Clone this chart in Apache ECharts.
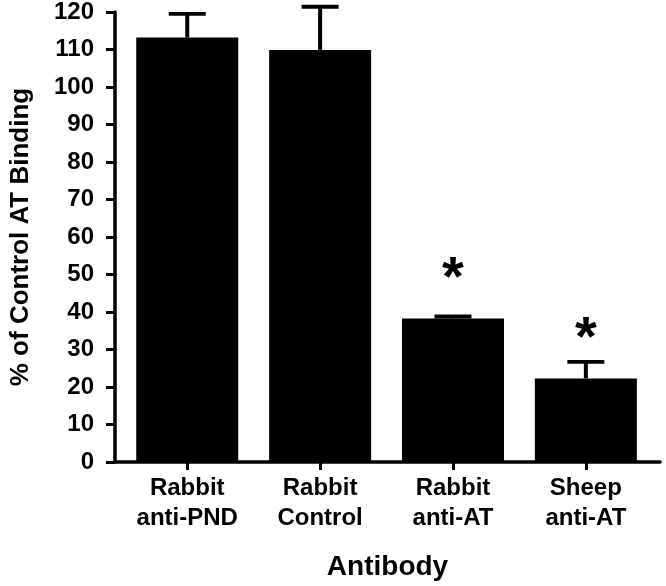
<!DOCTYPE html>
<html>
<head>
<meta charset="utf-8">
<script src="https://cdn.jsdelivr.net/npm/echarts@6/dist/echarts.min.js"></script>
<style>
html,body{margin:0;padding:0;background:#fff;}
#chart{width:666px;height:586px;}
</style>
</head>
<body>
<div id="chart"></div>
<script>
var categories = ['Rabbit\nanti-PND', 'Rabbit\nControl', 'Rabbit\nanti-AT', 'Sheep\nanti-AT'];
var meanValues = [113.2, 109.9, 38.3, 22.3];
var errorValues = [6.3, 11.5, 0.5, 4.4];
var asteriskY = [null, null, 51.5, 35.5];
var yTicks = {min: 0, max: 120, interval: 10};

var FONT = '"Liberation Sans", Arial, Helvetica, sans-serif';
var chart = echarts.init(document.getElementById('chart'), null, {renderer: 'canvas'});

var errData = meanValues.map(function (m, i) { return [i, m, m + errorValues[i]]; });
var astData = [];
asteriskY.forEach(function (v, i) { if (v != null) astData.push([i, v]); });

var option = {
  backgroundColor: '#fff',
  animation: false,
  grid: [
    {left: 109, right: 6, top: 12, bottom: 124},
    {left: 120.8, right: 13.7, top: 12, bottom: 124}
  ],
  xAxis: [
    {
      gridIndex: 0, type: 'value', min: 0, max: 1,
      axisLine: {show: true, lineStyle: {color: '#000', width: 3.5}},
      axisTick: {show: false}, axisLabel: {show: false}, splitLine: {show: false},
      name: 'Antibody', nameLocation: 'middle', nameGap: 91,
      nameTextStyle: {fontFamily: FONT, fontWeight: 'bold', fontSize: 28, color: '#000'}
    },
    {
      gridIndex: 1, type: 'category', data: categories,
      axisLine: {show: false},
      axisTick: {show: true, alignWithLabel: true, length: 8, lineStyle: {color: '#000', width: 3}},
      axisLabel: {fontFamily: FONT, fontWeight: 'bold', fontSize: 24, color: '#000', lineHeight: 30, margin: 11, interval: 0}
    }
  ],
  yAxis: [
    {
      gridIndex: 0, type: 'value', min: yTicks.min, max: yTicks.max, interval: yTicks.interval,
      axisLine: {show: true, lineStyle: {color: '#000', width: 3.5}},
      axisTick: {show: true, length: 9, lineStyle: {color: '#000', width: 3}},
      axisLabel: {fontFamily: FONT, fontWeight: 'bold', fontSize: 24, color: '#000', margin: 21},
      splitLine: {show: false},
      name: '% of Control AT Binding', nameLocation: 'middle', nameGap: 81,
      nameTextStyle: {fontFamily: FONT, fontWeight: 'bold', fontSize: 26, color: '#000'}
    },
    {
      gridIndex: 1, type: 'value', min: yTicks.min, max: yTicks.max, show: false
    }
  ],
  series: [
    {
      type: 'bar', xAxisIndex: 1, yAxisIndex: 1, data: meanValues,
      barWidth: 102, itemStyle: {color: '#000'}, z: 2
    },
    {
      type: 'custom', xAxisIndex: 1, yAxisIndex: 1, data: errData, z: 3,
      renderItem: function (params, api) {
        var x = api.value(0);
        var top = api.coord([x, api.value(2)]);
        var base = api.coord([x, api.value(1)]);
        var half = 18.5;
        return {
          type: 'group',
          children: [
            {type: 'line', shape: {x1: top[0], y1: top[1], x2: base[0], y2: base[1]}, style: {stroke: '#000', lineWidth: 4}},
            {type: 'line', shape: {x1: top[0] - half, y1: top[1], x2: top[0] + half, y2: top[1]}, style: {stroke: '#000', lineWidth: 3.8}}
          ]
        };
      }
    },
    {
      type: 'custom', xAxisIndex: 1, yAxisIndex: 1, data: astData, z: 4,
      renderItem: function (params, api) {
        var p = api.coord([api.value(0), api.value(1)]);
        return {
          type: 'text', x: p[0], y: p[1] + 11,
          style: {text: '*', fontFamily: FONT, fontWeight: 'bold', fontSize: 56, fill: '#000', align: 'center', verticalAlign: 'middle'}
        };
      }
    }
  ]
};
chart.setOption(option);
</script>
</body>
</html>
